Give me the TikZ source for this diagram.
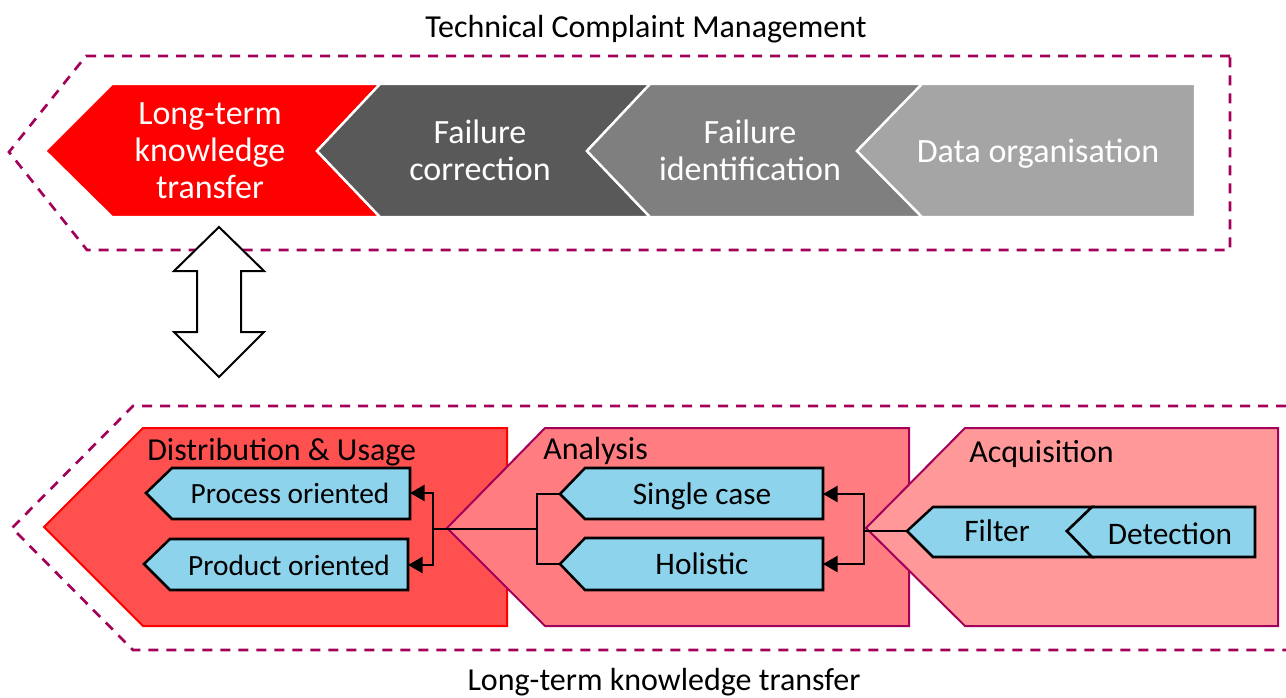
\documentclass[tikz,border=0pt]{standalone}
\usepackage{fontspec}
\setmainfont{Carlito}
\usetikzlibrary{arrows.meta}

\definecolor{framec}{RGB}{163,0,90}
\definecolor{grayA}{RGB}{89,89,89}
\definecolor{grayB}{RGB}{127,127,127}
\definecolor{grayC}{RGB}{165,165,165}
\definecolor{distfill}{RGB}{255,80,80}
\definecolor{anafill}{RGB}{255,124,128}
\definecolor{acqfill}{RGB}{255,153,153}
\definecolor{taskblue}{RGB}{142,211,236}
\definecolor{stageborder}{RGB}{163,0,90}

\begin{document}
\begin{tikzpicture}[x=0.75pt,y=-0.75pt,
  dashframe/.style={draw=framec, line width=2pt, dash pattern=on 7.5pt off 6pt, line join=miter},
  phaseshape/.style={draw=white, line width=1.8pt, line join=miter},
  stageshape/.style={line width=1.5pt, line join=miter},
  taskbox/.style={fill=taskblue, draw=black, line width=1.9pt, line join=miter},
  conn/.style={draw=black, line width=2pt, line join=miter},
  arr/.style={conn, -{Triangle[length=11pt,width=12pt]}},
  textline/.style={text height=17.5pt, text depth=1.5pt, inner sep=0},
  title/.style={textline, font=\fontsize{24}{28}\selectfont},
  phasetext/.style={text=white, align=center, font=\fontsize{25.5}{27.75}\selectfont, inner sep=0},
  stagetext/.style={textline, anchor=west, font=\fontsize{24}{28}\selectfont},
  tasktext/.style={textline, font=\fontsize{23.5}{28}\selectfont},
  smalltask/.style={textline, font=\fontsize{22}{26}\selectfont}
]
\useasboundingbox (0,0) rectangle (1286,697);

% ---------- process chain ----------
\node[title] (tcm) at (646,27) {Technical Complaint Management};
\draw[dashframe] (1230,56) -- (86,56) -- (9,152) -- (87,250) -- (1230,250) -- cycle;

\path[phaseshape, fill=red]   (45,151) -- (112,84) -- (380,84) -- (317,151) -- (380,217) -- (112,217) -- cycle;
\path[phaseshape, fill=grayA] (317,151) -- (380,84) -- (650,84) -- (587,151) -- (650,217) -- (380,217) -- cycle;
\path[phaseshape, fill=grayB] (587,151) -- (650,84) -- (922,84) -- (857,151) -- (922,217) -- (650,217) -- cycle;
\path[phaseshape, fill=grayC] (857,151) -- (922,84) -- (1195,84) -- (1195,217) -- (922,217) -- cycle;

\node[phasetext] (ltkt) at (210,151) {Long-term\\knowledge\\transfer};
\node[phasetext] (fcorr) at (480,150) {Failure\\correction};
\node[phasetext] (fident) at (750,150) {Failure\\identification};
\node[phasetext] (dorg) at (1038,154) {Data organisation};

% ---------- knowledge transfer detail ----------
\draw[dashframe] (1286,406) -- (133,406) -- (12,528) -- (133,650) -- (1286,650);
\node[title] (lkt) at (664,680) {Long-term knowledge transfer};

\path[stageshape, draw=red, fill=distfill] (44,527) -- (143,428) -- (507,428) -- (507,626) -- (143,626) -- cycle;
\path[stageshape, draw=stageborder, fill=anafill] (447,528) -- (545,428) -- (909,428) -- (909,626) -- (545,626) -- cycle;
\path[stageshape, draw=stageborder, fill=acqfill] (866,528) -- (965,428) -- (1278,428) -- (1278,626) -- (965,626) -- cycle;

\node[stagetext] (dist) at (147,450) {Distribution \& Usage};
\node[stagetext] (ana) at (543,449) {Analysis};
\node[stagetext] (acq) at (969,452) {Acquisition};

% task boxes
\path[taskbox] (146,493) -- (172,468) -- (410,468) -- (410,519) -- (172,519) -- cycle;
\path[taskbox] (144,564) -- (170,539) -- (408,539) -- (408,590) -- (170,590) -- cycle;
\path[taskbox] (560,494) -- (585,468) -- (823,468) -- (823,519) -- (585,519) -- cycle;
\path[taskbox] (560,564) -- (585,538) -- (823,538) -- (823,590) -- (585,590) -- cycle;
\path[taskbox] (907,531) -- (933,507) -- (1092,507) -- (1067,531) -- (1092,557) -- (933,557) -- cycle;
\path[taskbox] (1067,531) -- (1092,507) -- (1255,507) -- (1255,557) -- (1092,557) -- cycle;

\node[smalltask] (process) at (290,493) {Process oriented};
\node[smalltask] (product) at (289,565) {Product oriented};
\node[tasktext] (single) at (702,494) {Single case};
\node[tasktext] (holistic) at (702,564) {Holistic};
\node[tasktext] (filter) at (997,531) {Filter};
\node[tasktext] (detection) at (1170,534) {Detection};

% connector ends and junctions
\coordinate (filter-tip) at (907,531);
\coordinate (single-tip) at (560,494);
\coordinate (single-end) at (823,494);
\coordinate (holistic-tip) at (560,564);
\coordinate (holistic-end) at (823,564);
\coordinate (process-end) at (410,493);
\coordinate (product-end) at (408,565);
\coordinate (acqjoin) at (864,531);
\coordinate (anajoin) at (537,529);
\coordinate (distjoin) at (433,529);

\draw[arr] (filter-tip) -- (acqjoin) |- (single-end);
\draw[arr] (filter-tip) -- (acqjoin) |- (holistic-end);
\draw[conn] (single-tip) -| (anajoin) -- (distjoin);
\draw[conn] (holistic-tip) -| (anajoin);
\draw[arr] (distjoin) |- (process-end);
\draw[arr] (distjoin) |- (product-end);

% exchange between the two views
\draw[line width=1.5pt, fill=white, line join=miter]
  (219,227) -- (264,271) -- (241,271) -- (241,332) -- (264,332) -- (219,377)
  -- (174,332) -- (197,332) -- (197,271) -- (174,271) -- cycle;
\end{tikzpicture}
\end{document}
